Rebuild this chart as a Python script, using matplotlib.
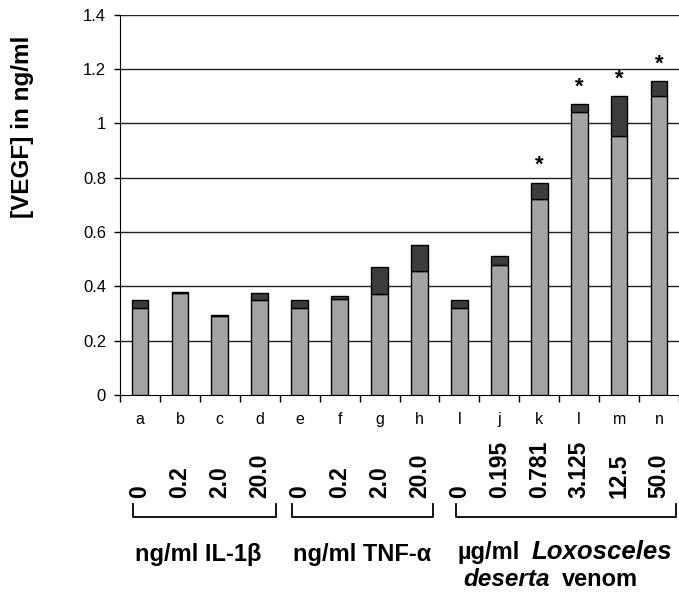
import matplotlib.pyplot as plt
import numpy as np

plt.rcParams['font.family'] = ['Liberation Sans', 'DejaVu Sans']

letters = ["a", "b", "c", "d", "e", "f", "g", "h", "l", "j", "k", "l", "m", "n"]
doses = ["0", "0.2", "2.0", "20.0", "0", "0.2", "2.0", "20.0",
         "0", "0.195", "0.781", "3.125", "12.5", "50.0"]
base = [0.32, 0.375, 0.29, 0.35, 0.32, 0.355, 0.37, 0.455,
        0.32, 0.48, 0.72, 1.04, 0.955, 1.10]
extra = [0.028, 0.005, 0.005, 0.024, 0.028, 0.01, 0.10, 0.097,
         0.028, 0.03, 0.06, 0.03, 0.145, 0.055]
signif = [False] * 10 + [True] * 4
group_labels = ["ng/ml IL-1\u03b2", "ng/ml TNF-\u03b1"]

fig = plt.figure(figsize=(6.79, 5.97), dpi=100)
ax = fig.add_axes([120 / 679, 1 - 395 / 597, 559 / 679, 380.3 / 597])

x = np.arange(len(letters))
for yv in np.arange(0.2, 1.41, 0.2):
    ax.axhline(yv, color="#222222", lw=1.0, zorder=1)
ax.bar(x, base, width=0.42, color="#a4a4a4", edgecolor="black", lw=1.0, zorder=3)
ax.bar(x, extra, width=0.42, bottom=base, color="#3c3c3c", edgecolor="black", lw=1.0, zorder=3)
for i in range(len(x)):
    if signif[i]:
        ax.annotate("*", (x[i], base[i] + extra[i]), xytext=(0, 5), textcoords="offset points",
                    ha="center", va="bottom", fontsize=16, fontweight="bold")

ax.set_xlim(-0.5, len(x) - 0.5)
ax.set_ylim(0, 1.4)
ax.set_yticks(np.arange(0, 1.41, 0.2))
ax.set_yticklabels(["0", "0.2", "0.4", "0.6", "0.8", "1", "1.2", "1.4"], fontsize=12)
ax.set_xticks(np.arange(-0.5, len(x) - 0.4, 1))
ax.set_xticklabels([])
ax.set_xticks(x, minor=True)
ax.set_xticklabels(letters, minor=True, fontsize=11.5)
ax.tick_params(axis="x", which="minor", length=0, pad=12)
ax.tick_params(axis="x", which="major", length=5, width=1, direction="out")
ax.tick_params(axis="y", length=4, width=1, pad=6)
for s in ["top", "right"]:
    ax.spines[s].set_visible(False)

fig.text(22 / 679, 1 - 127 / 597, "[VEGF] in ng/ml", rotation=90, ha="center", va="center",
         fontsize=17.5, fontweight="bold")

# dose labels under the letters
trans = ax.get_xaxis_transform()
for i in range(len(x)):
    ax.text(x[i], -0.27, doses[i], transform=trans, rotation=90, ha="center", va="bottom",
            fontsize=16.5, fontweight="bold")

# brackets
ybr_top, ybr_bot = -(504 - 395) / 380.3, -(517 - 395) / 380.3
spans = [(133, 276), (292, 434), (457, 677)]
for (a, b) in spans:
    xa, xb = (a - 120) / 40 - 0.5, (b - 120) / 40 - 0.5
    ax.plot([xa, xa, xb, xb], [ybr_top, ybr_bot, ybr_bot, ybr_top], color="black", lw=1.3,
            transform=trans, clip_on=False)

renderer = fig.canvas.get_renderer()


def row(x0, y0, parts):
    xp = x0
    for txt, italic, gap, size in parts:
        t = fig.text(xp / 679, 1 - y0 / 597, txt, ha="left", va="center", fontsize=size,
                     fontweight="bold", style="italic" if italic else "normal")
        xp += t.get_window_extent(renderer).width + gap


row(135, 555, [(group_labels[0], False, 0, 17)])
row(293, 555, [(group_labels[1], False, 0, 17)])
row(457, 552, [("\u00b5g/ml", False, 12, 17), ("Loxosceles", True, 0, 18.5)])
row(463, 580, [("deserta", True, 12, 17.5), ("venom", False, 0, 17)])

fig.savefig("out.png", dpi=100)
